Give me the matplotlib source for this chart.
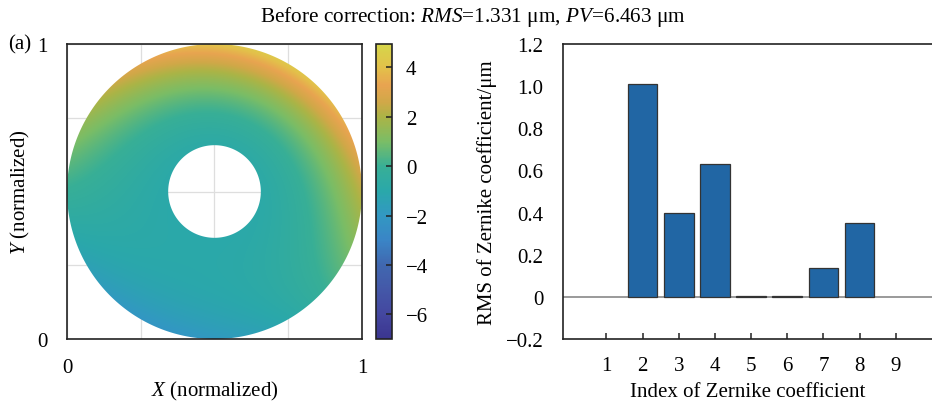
import numpy as np
import matplotlib
matplotlib.use("Agg")
import matplotlib.pyplot as plt
from matplotlib.colors import LinearSegmentedColormap, Normalize
from matplotlib.path import Path
from matplotlib.patches import PathPatch

plt.rcParams["font.family"] = ["Liberation Serif", "DejaVu Serif"]
plt.rcParams["mathtext.fontset"] = "custom"
plt.rcParams["mathtext.rm"] = "Liberation Serif"
plt.rcParams["mathtext.it"] = "Liberation Serif:italic"

# ---- data -------------------------------------------------------------
zernike_index = [1, 2, 3, 4, 5, 6, 7, 8, 9]
zernike_rms = [0.0, 1.01, 0.40, 0.63, 0.004, 0.003, 0.137, 0.351, 0.0]
rms_total = 1.331
pv_total = 6.463

bar_yticks = [-0.2, 0.0, 0.2, 0.4, 0.6, 0.8, 1.0, 1.2]
bar_ytick_labels = ["\u22120.2", "0", "0.2", "0.4", "0.6", "0.8", "1.0", "1.2"]
cbar_ticks = [-6, -4, -2, 0, 2, 4]
map_ticks = [0, 0.25, 0.5, 0.75, 1]
map_tick_labels = ["0", "", "", "", "1"]

obscuration = 0.314          # inner / outer radius of the annular pupil
c_min, c_max = -7.0, 4.95

# colour scale (value, colour)
cmap_stops = [(-7.0, "#3b3590"), (-6.0, "#4447a0"), (-5.0, "#4458a8"),
              (-4.0, "#4068b0"), (-3.0, "#3a85c6"), (-2.0, "#3298c2"),
              (-1.0, "#2aa8aa"), (0.0, "#38af96"), (1.0, "#7abd66"),
              (2.0, "#abb446"), (2.6, "#d0a848"), (3.3, "#e8a450"),
              (4.0, "#e3c04a"), (4.95, "#d6d64a")]
cmap = LinearSegmentedColormap.from_list(
    "pupil", [((v - c_min) / (c_max - c_min), c) for v, c in cmap_stops])

# ---- wavefront from the Zernike terms ---------------------------------
n = 700
g = np.linspace(0, 1, n)
X, Y = np.meshgrid(g, g)
u = (X - 0.5) / 0.5
v = (Y - 0.5) / 0.5
rho = np.hypot(u, v)
th = np.arctan2(v, u)

basis = [
    np.ones_like(rho),
    2 * rho * np.sin(th),
    2 * rho * np.cos(th),
    np.sqrt(3) * (2 * rho**2 - 1),
    np.sqrt(6) * rho**2 * np.cos(2 * th),
    np.sqrt(6) * rho**2 * np.sin(2 * th),
    np.sqrt(8) * (3 * rho**3 - 2 * rho) * np.cos(th),
    np.sqrt(8) * (3 * rho**3 - 2 * rho) * np.sin(th),
    np.sqrt(5) * (6 * rho**4 - 6 * rho**2 + 1),
]
W = sum(c * b for c, b in zip(zernike_rms, basis))

# ---- figure -----------------------------------------------------------
FW, FH = 932, 402
fig = plt.figure(figsize=(FW / 100, FH / 100), dpi=100)


def px_axes(l, t, r, b):
    return fig.add_axes([l / FW, 1 - b / FH, (r - l) / FW, (b - t) / FH])


spine_col = "#222222"
tick_fs = 15
label_fs = 15
MU = "\u03bc"

# left: annular map
ax1 = px_axes(67, 45, 362, 340)
im = ax1.imshow(W, extent=[0, 1, 0, 1], origin="lower", cmap=cmap,
                norm=Normalize(c_min, c_max), interpolation="bilinear",
                zorder=1)
t = np.linspace(0, 2 * np.pi, 720)
outer = np.column_stack([0.5 + 0.5 * np.cos(t), 0.5 + 0.5 * np.sin(t)])
ri = 0.5 * obscuration
inner = np.column_stack([0.5 + ri * np.cos(t[::-1]), 0.5 + ri * np.sin(t[::-1])])
verts = np.vstack([outer, inner])
codes = np.full(len(verts), Path.LINETO)
codes[0] = Path.MOVETO
codes[len(outer)] = Path.MOVETO
clip = PathPatch(Path(verts, codes), transform=ax1.transData,
                 facecolor="none", edgecolor="none")
ax1.add_patch(clip)
im.set_clip_path(clip)

ax1.set_xlim(0, 1)
ax1.set_ylim(0, 1)
ax1.set_xticks(map_ticks)
ax1.set_xticklabels(map_tick_labels)
ax1.set_yticks(map_ticks)
ax1.set_yticklabels(map_tick_labels)
ax1.grid(True, color="#dedede", lw=0.9)
ax1.set_axisbelow(True)
ax1.tick_params(length=0, labelsize=tick_fs)
ax1.tick_params(axis="x", pad=14)
ax1.tick_params(axis="y", pad=14)
for s in ax1.spines.values():
    s.set_color(spine_col)
    s.set_linewidth(1.2)
ax1.set_xlabel(r"$\mathit{X}$ (normalized)", fontsize=label_fs, labelpad=1)
ax1.set_ylabel(r"$\mathit{Y}$ (normalized)", fontsize=label_fs, labelpad=4)

# colour bar
cax = px_axes(376, 45, 392, 340)
cb = fig.colorbar(im, cax=cax, ticks=cbar_ticks)
cax.tick_params(direction="in", length=4, width=1.1, color=spine_col,
                labelsize=tick_fs, pad=10)
cb.outline.set_edgecolor(spine_col)
cb.outline.set_linewidth(1.2)

# right: coefficient bars
ax2 = px_axes(563, 45, 932, 340)
ax2.axhline(0, color="#9a9a9a", lw=1.4, zorder=1)
edge_w = [0.9 if r > 0 else 0.0 for r in zernike_rms]
ax2.bar(zernike_index, zernike_rms, width=0.82, color="#2166a4",
        edgecolor="#333333", linewidth=edge_w, zorder=2)
ax2.set_xlim(-0.2, 10)
ax2.set_ylim(-0.2, 1.2)
ax2.set_xticks(zernike_index)
ax2.set_yticks(bar_yticks)
ax2.set_yticklabels(bar_ytick_labels)
ax2.tick_params(axis="x", direction="in", length=4, width=1.1,
                color=spine_col, labelsize=tick_fs, pad=12)
ax2.tick_params(axis="y", length=0, labelsize=tick_fs, pad=14)
ax2.spines["right"].set_visible(False)
for k in ("left", "top", "bottom"):
    ax2.spines[k].set_color(spine_col)
    ax2.spines[k].set_linewidth(1.2)
ax2.set_xlabel("Index of Zernike coefficient", fontsize=label_fs, labelpad=5)
ax2.set_ylabel(f"RMS of Zernike coefficient/{MU}m", fontsize=label_fs,
               labelpad=6)

# title and panel tag
title = (r"Before correction: $\mathit{RMS}$=" + f"{rms_total:.3f} {MU}m, "
         + r"$\mathit{PV}$=" + f"{pv_total:.3f} {MU}m")
fig.text(473 / FW, 1 - 17 / FH, title, ha="center", va="center",
         fontsize=15.3)
fig.text(8 / FW, 1 - 45 / FH, "(a)", ha="left", va="center", fontsize=tick_fs)

fig.savefig("out.png", dpi=100)
